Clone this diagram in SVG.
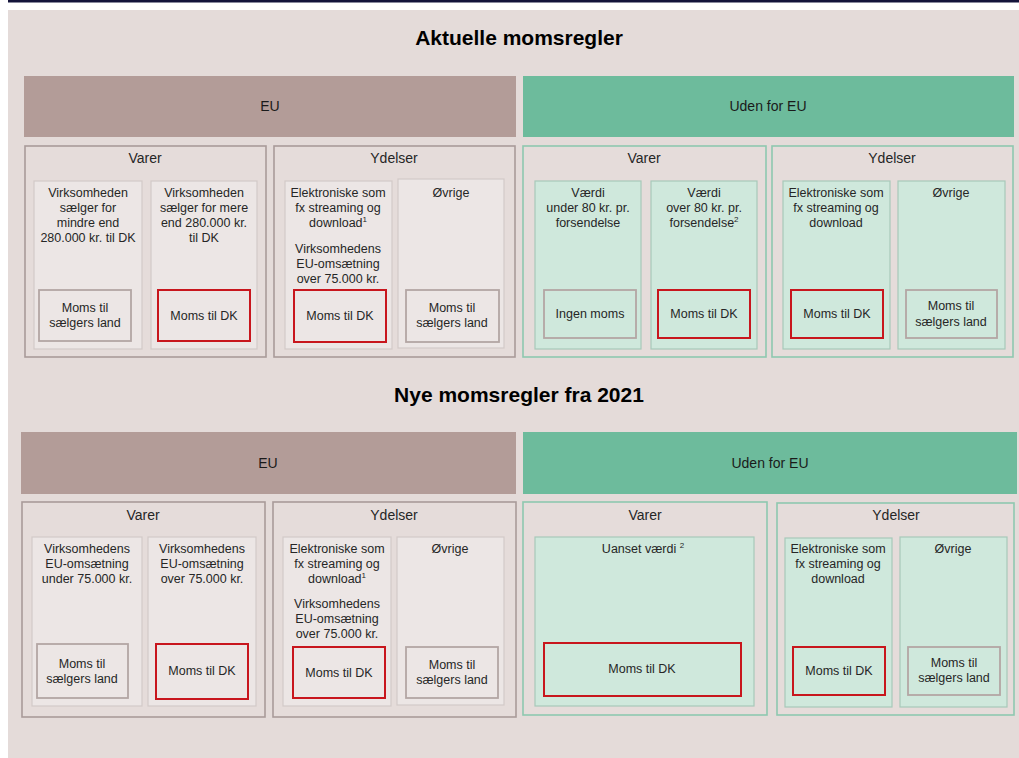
<svg xmlns="http://www.w3.org/2000/svg" width="1019" height="758" viewBox="0 0 1019 758">
<style>
text{font-family:"Liberation Sans",Arial,sans-serif;fill:#262626;text-anchor:middle}
.title{font-size:21px;font-weight:bold;fill:#000}
.hdr{font-size:14px;fill:#1a1a1a}
.grp{font-size:14px}
.t{font-size:12.5px}
.sup{font-size:8px}
.barEU{fill:#b39c98}
.barUD{fill:#6dbb9c}
.outEU{fill:#e5dcda;stroke:#a99b99;stroke-width:1.6}
.outUD{fill:#e5dcda;stroke:#8ec8af;stroke-width:1.6}
.inEU{fill:#ece6e5;stroke:#d2cac8;stroke-width:1.2}
.inUD{fill:#cfe8dc;stroke:#a7c9b9;stroke-width:1.2}
.gEU{fill:#ece6e5;stroke:#b3a6a4;stroke-width:1.8}
.gUD{fill:#cfe8dc;stroke:#b3a6a4;stroke-width:1.8}
.red{stroke:#c8161d;stroke-width:2}
.redEU{fill:#ece6e5}
.redUD{fill:#cfe8dc}
</style>
<rect x="0" y="0" width="1019" height="758" fill="#ffffff"/>
<rect x="8" y="0" width="1011" height="2.5" fill="#14143a"/>
<rect x="8" y="10" width="1011" height="748" fill="#e4dbd9"/>

<g id="titles">
<text class="title" x="519" y="45">Aktuelle momsregler</text>
<text class="title" x="519" y="402">Nye momsregler fra 2021</text>
</g>

<g id="hdr-eu-1"><rect class="barEU" x="24" y="76" width="492" height="61"/><text class="hdr" x="270" y="111">EU</text></g>
<g id="hdr-ud-1"><rect class="barUD" x="523" y="76" width="491" height="61"/><text class="hdr" x="768" y="111">Uden for EU</text></g>
<g id="hdr-eu-2"><rect class="barEU" x="21" y="432" width="495" height="62"/><text class="hdr" x="268" y="468">EU</text></g>
<g id="hdr-ud-2"><rect class="barUD" x="523" y="432" width="494" height="62"/><text class="hdr" x="770" y="468">Uden for EU</text></g>

<!-- Row 1 EU Varer -->
<g id="r1-eu-varer">
<rect class="outEU" x="25" y="146" width="241" height="211"/>
<text class="grp" x="145" y="163">Varer</text>
<rect class="inEU" x="34" y="181" width="108" height="168"/>
<text class="t" x="88" y="197">Virksomheden</text>
<text class="t" x="88" y="212">sælger for</text>
<text class="t" x="88" y="227">mindre end</text>
<text class="t" x="88" y="242">280.000 kr. til DK</text>
<rect class="gEU" x="39" y="290" width="92" height="51"/>
<text class="t" x="85" y="312">Moms til</text>
<text class="t" x="85" y="327">sælgers land</text>
<rect class="inEU" x="151" y="181" width="106" height="168"/>
<text class="t" x="204" y="197">Virksomheden</text>
<text class="t" x="204" y="212">sælger for mere</text>
<text class="t" x="204" y="227">end 280.000 kr.</text>
<text class="t" x="204" y="242">til DK</text>
<rect class="red redEU" x="158" y="290" width="92" height="51"/>
<text class="t" x="204" y="320">Moms til DK</text>
</g>

<!-- Row 1 EU Ydelser -->
<g id="r1-eu-ydelser">
<rect class="outEU" x="274" y="146" width="241" height="211"/>
<text class="grp" x="394" y="163">Ydelser</text>
<rect class="inEU" x="285" y="181" width="107" height="168"/>
<text class="t" x="338" y="197">Elektroniske som</text>
<text class="t" x="338" y="212">fx streaming og</text>
<text class="t" x="338" y="227">download<tspan class="sup" dy="-5">1</tspan></text>
<text class="t" x="338" y="253">Virksomhedens</text>
<text class="t" x="338" y="268">EU-omsætning</text>
<text class="t" x="338" y="283">over 75.000 kr.</text>
<rect class="red redEU" x="294" y="290" width="92" height="52"/>
<text class="t" x="340" y="320">Moms til DK</text>
<rect class="inEU" x="398" y="179" width="106" height="169"/>
<text class="t" x="451" y="197">Øvrige</text>
<rect class="gEU" x="406" y="290" width="93" height="52"/>
<text class="t" x="452" y="312">Moms til</text>
<text class="t" x="452" y="327">sælgers land</text>
</g>

<!-- Row 1 Uden Varer -->
<g id="r1-ud-varer">
<rect class="outUD" x="523" y="146" width="243" height="211"/>
<text class="grp" x="644" y="163">Varer</text>
<rect class="inUD" x="535" y="181" width="106" height="168"/>
<text class="t" x="588" y="197">Værdi</text>
<text class="t" x="588" y="212">under 80 kr. pr.</text>
<text class="t" x="588" y="227">forsendelse</text>
<rect class="gUD" x="544" y="290" width="92" height="48"/>
<text class="t" x="590" y="318">Ingen moms</text>
<rect class="inUD" x="651" y="181" width="106" height="168"/>
<text class="t" x="704" y="197">Værdi</text>
<text class="t" x="704" y="212">over 80 kr. pr.</text>
<text class="t" x="704" y="227">forsendelse<tspan class="sup" dy="-5">2</tspan></text>
<rect class="red redUD" x="658" y="290" width="92" height="48"/>
<text class="t" x="704" y="318">Moms til DK</text>
</g>

<!-- Row 1 Uden Ydelser -->
<g id="r1-ud-ydelser">
<rect class="outUD" x="772" y="146" width="241" height="211"/>
<text class="grp" x="892" y="163">Ydelser</text>
<rect class="inUD" x="783" y="181" width="107" height="168"/>
<text class="t" x="836" y="197">Elektroniske som</text>
<text class="t" x="836" y="212">fx streaming og</text>
<text class="t" x="836" y="227">download</text>
<rect class="red redUD" x="791" y="290" width="92" height="48"/>
<text class="t" x="837" y="318">Moms til DK</text>
<rect class="inUD" x="898" y="181" width="107" height="168"/>
<text class="t" x="951" y="197">Øvrige</text>
<rect class="gUD" x="906" y="290" width="91" height="48"/>
<text class="t" x="951" y="310">Moms til</text>
<text class="t" x="951" y="326">sælgers land</text>
</g>

<!-- Row 2 EU Varer -->
<g id="r2-eu-varer">
<rect class="outEU" x="22" y="502" width="243" height="215"/>
<text class="grp" x="143" y="520">Varer</text>
<rect class="inEU" x="32" y="537" width="110" height="169"/>
<text class="t" x="87" y="553">Virksomhedens</text>
<text class="t" x="87" y="568">EU-omsætning</text>
<text class="t" x="87" y="583">under 75.000 kr.</text>
<rect class="gEU" x="37" y="644" width="91" height="54"/>
<text class="t" x="82" y="668">Moms til</text>
<text class="t" x="82" y="683">sælgers land</text>
<rect class="inEU" x="148" y="537" width="108" height="169"/>
<text class="t" x="202" y="553">Virksomhedens</text>
<text class="t" x="202" y="568">EU-omsætning</text>
<text class="t" x="202" y="583">over 75.000 kr.</text>
<rect class="red redEU" x="156" y="644" width="92" height="55"/>
<text class="t" x="202" y="675">Moms til DK</text>
</g>

<!-- Row 2 EU Ydelser -->
<g id="r2-eu-ydelser">
<rect class="outEU" x="273" y="502" width="243" height="215"/>
<text class="grp" x="394" y="520">Ydelser</text>
<rect class="inEU" x="283" y="537" width="108" height="169"/>
<text class="t" x="337" y="553">Elektroniske som</text>
<text class="t" x="337" y="568">fx streaming og</text>
<text class="t" x="337" y="583">download<tspan class="sup" dy="-5">1</tspan></text>
<text class="t" x="337" y="608">Virksomhedens</text>
<text class="t" x="337" y="623">EU-omsætning</text>
<text class="t" x="337" y="638">over 75.000 kr.</text>
<rect class="red redEU" x="293" y="647" width="92" height="51"/>
<text class="t" x="339" y="677">Moms til DK</text>
<rect class="inEU" x="397" y="537" width="107" height="168"/>
<text class="t" x="450" y="553">Øvrige</text>
<rect class="gEU" x="406" y="647" width="92" height="51"/>
<text class="t" x="452" y="669">Moms til</text>
<text class="t" x="452" y="684">sælgers land</text>
</g>

<!-- Row 2 Uden Varer -->
<g id="r2-ud-varer">
<rect class="outUD" x="523" y="502" width="244" height="213"/>
<text class="grp" x="645" y="520">Varer</text>
<rect class="inUD" x="535" y="537" width="219" height="169"/>
<text class="t" x="643" y="553">Uanset værdi <tspan class="sup" dy="-5">2</tspan></text>
<rect class="red redUD" x="544" y="643" width="197" height="53"/>
<text class="t" x="642" y="673">Moms til DK</text>
</g>

<!-- Row 2 Uden Ydelser -->
<g id="r2-ud-ydelser">
<rect class="outUD" x="777" y="503" width="237" height="212"/>
<text class="grp" x="896" y="520">Ydelser</text>
<rect class="inUD" x="785" y="538" width="107" height="169"/>
<text class="t" x="838" y="553">Elektroniske som</text>
<text class="t" x="838" y="568">fx streaming og</text>
<text class="t" x="838" y="583">download</text>
<rect class="red redUD" x="793" y="647" width="92" height="48"/>
<text class="t" x="839" y="675">Moms til DK</text>
<rect class="inUD" x="900" y="537" width="107" height="170"/>
<text class="t" x="953" y="553">Øvrige</text>
<rect class="gUD" x="908" y="647" width="92" height="48"/>
<text class="t" x="954" y="667">Moms til</text>
<text class="t" x="954" y="682">sælgers land</text>
</g>

<g id="connectors"></g>
</svg>
